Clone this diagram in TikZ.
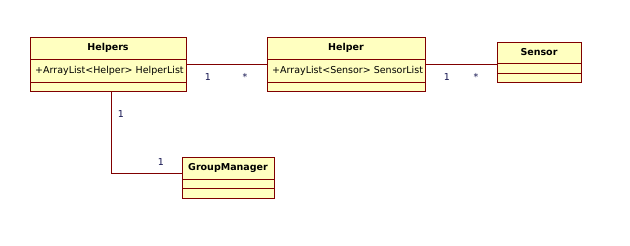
\documentclass[tikz,border=0pt]{standalone}
\usepackage{fontspec}
\setmainfont{DejaVu Sans}
\definecolor{umlline}{RGB}{128,0,0}
\definecolor{umlfill}{RGB}{255,255,192}
\definecolor{multc}{RGB}{20,20,80}
\begin{document}
\begin{tikzpicture}[x=1pt,y=-1pt,
  cls/.style={draw=umlline,fill=umlfill,line width=0.9pt,rectangle,inner sep=0pt},
  sep/.style={draw=umlline,line width=0.9pt},
  conn/.style={draw=umlline,line width=0.9pt},
  cname/.style={font=\fontsize{9.5}{11}\selectfont\bfseries,inner sep=0pt,anchor=center},
  attr/.style={font=\fontsize{9.5}{11}\selectfont,inner sep=0pt,anchor=west},
  mult/.style={font=\fontsize{9.5}{11}\selectfont,text=multc,inner sep=0pt,anchor=center}]
\useasboundingbox (0,0) rectangle (630,246);
% classes
\node[cls,minimum width=156pt,minimum height=54pt] (helpers) at (108,64) {};
\node[cls,minimum width=158pt,minimum height=54pt] (helper) at (346,64) {};
\node[cls,minimum width=84pt,minimum height=40pt] (sensor) at (539,62) {};
\node[cls,minimum width=92pt,minimum height=41pt] (gm) at (228,177.5) {};
% separators
\draw[sep] (30,59) -- (186,59) (30,82) -- (186,82);
\draw[sep] (267,59) -- (425,59) (267,82) -- (425,82);
\draw[sep] (497,63) -- (581,63) (497,73) -- (581,73);
\draw[sep] (182,179) -- (274,179) (182,188) -- (274,188);
% texts
\node[cname] (n1) at (108,48) {Helpers};
\node[attr] (a1) at (35,70.5) {+ArrayList<Helper> HelperList};
\node[cname] (n2) at (346,48) {Helper};
\node[attr] (a2) at (272,70.5) {+ArrayList<Sensor> SensorList};
\node[cname] (n3) at (539,52.5) {Sensor};
\node[cname] (n4) at (228,168) {GroupManager};
% connectors
\draw[conn] (helpers.east) -- (helper.west);
\draw[conn] (helper.east) -- (sensor.west |- helper.east);
\coordinate (bend) at (111,173);
\draw[conn] (helpers.south -| bend) |- (gm.west |- bend);
% multiplicities
\node[mult] (m1) at (208,77.5) {1};
\node[mult] (m2) at (245,77) {*};
\node[mult] (m3) at (447,77.5) {1};
\node[mult] (m4) at (476,77) {*};
\node[mult] (m5) at (121,114) {1};
\node[mult] (m6) at (161,162) {1};
\end{tikzpicture}
\end{document}
